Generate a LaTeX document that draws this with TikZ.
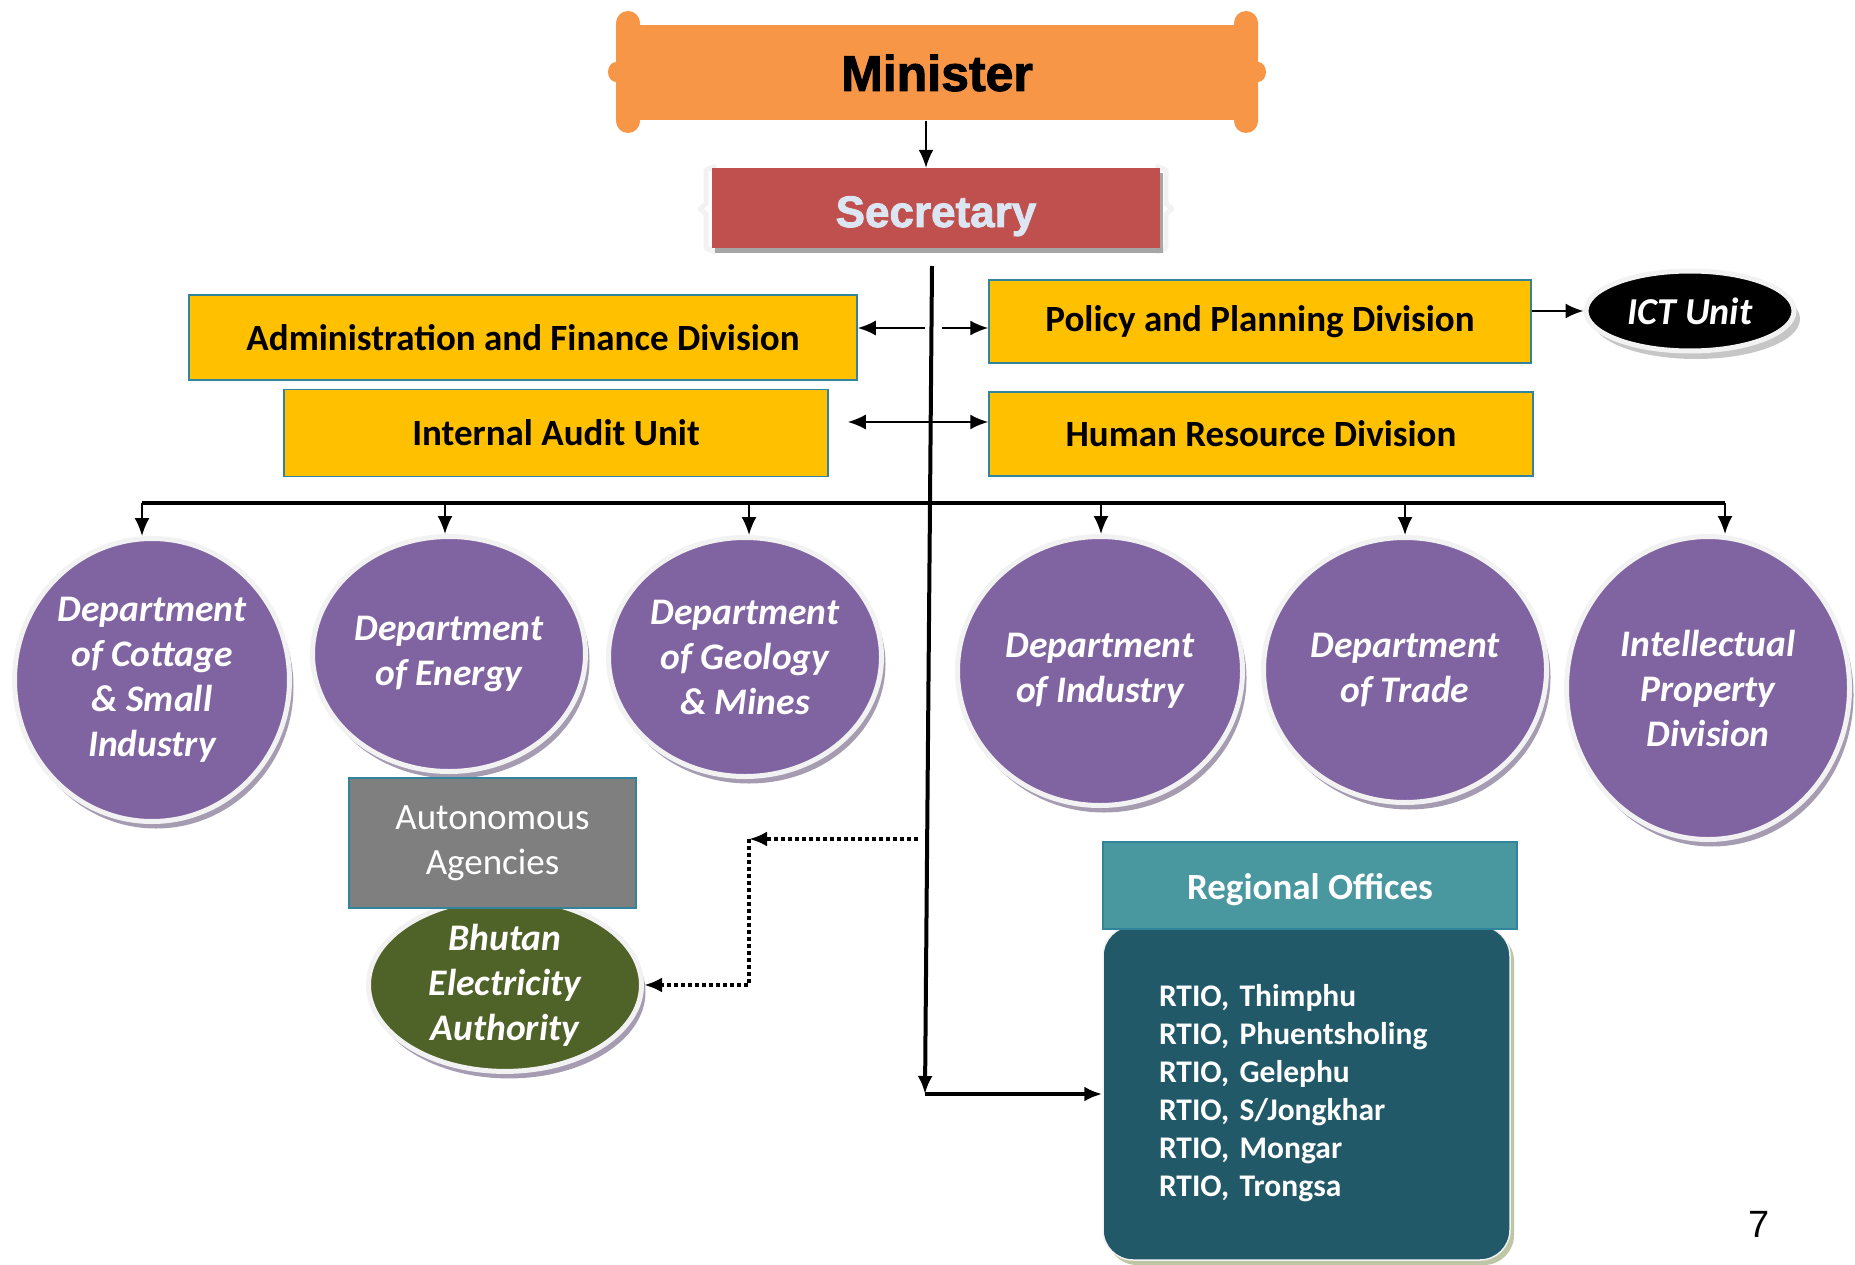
\documentclass[tikz,border=0pt]{standalone}
\usepackage{fontspec}
\setmainfont{Carlito}
\newfontfamily\headfont[BoldFeatures={FakeBold=2}]{Liberation Sans}
\usetikzlibrary{positioning, arrows.meta, shapes.geometric, shadows}

\definecolor{minorange}{HTML}{F79646}
\definecolor{secred}{HTML}{C0504D}
\definecolor{sectext}{HTML}{DCE6F2}
\definecolor{boxyellow}{HTML}{FFC000}
\definecolor{boxedge}{HTML}{31849B}
\definecolor{deptpurple}{HTML}{8064A2}
\definecolor{ringgray}{HTML}{F2F2F2}
\definecolor{shadowgray}{HTML}{A59CB2}
\definecolor{aagray}{HTML}{7F7F7F}
\definecolor{beagreen}{HTML}{4F6228}
\definecolor{headteal}{HTML}{4A989F}
\definecolor{bodyteal}{HTML}{215968}
\definecolor{bodyshadow}{HTML}{BFC6A6}

\frenchspacing
\begin{document}
\begin{tikzpicture}[x=1pt,y=-1pt,>={Latex[length=18pt,width=15pt]},
    ybox/.style={rectangle,fill=boxyellow,draw=boxedge,line width=1.5pt,inner sep=0pt,
      font=\fontsize{37}{44}\selectfont\bfseries},
    dept/.style={ellipse,fill=deptpurple,draw=ringgray,line width=5pt,text=white,align=center,
      inner sep=0pt,font=\fontsize{37.5}{45}\selectfont\bfseries\itshape,
      drop shadow={shadow xshift=4pt,shadow yshift=-7pt,fill=shadowgray,opacity=1}},
    arr/.style={->,line width=2pt},
    trunkline/.style={line width=4pt},
    dotarr/.style={->,line width=4.5pt,dash pattern=on 4pt off 3pt},
    rhead/.style={rectangle,fill=headteal,draw=boxedge,line width=1.5pt,text=white,inner sep=0pt,
      text height=28pt,text depth=0pt,font=\fontsize{37}{44}\selectfont\bfseries},
    rbody/.style={rectangle,rounded corners=30pt,fill=bodyteal,draw=ringgray,line width=1.5pt,
      text=white,align=left,text width=295pt,inner xsep=56pt,
      font=\fontsize{31.5}{38}\selectfont\bfseries,
      drop shadow={shadow xshift=4pt,shadow yshift=-5pt,fill=bodyshadow,opacity=1}}]

\useasboundingbox (0,0) rectangle (1855,1265);

% minister and secretary
\fill[minorange, rounded corners=12pt] (616,11) rectangle (640,133);
\fill[minorange, rounded corners=12pt] (1234,11) rectangle (1258,133);
\fill[minorange] (616,72) ellipse (8pt and 10pt);
\fill[minorange] (1258,72) ellipse (8pt and 10pt);
\node[rectangle,fill=minorange,minimum width=642pt,minimum height=95pt,inner sep=0pt,
  font=\headfont\fontsize{50}{56}\selectfont\bfseries] (minister) at (937,73) {Minister};

\draw[ringgray, line width=5pt, line join=round] (716,166) -- (706,170) -- (706,204) -- (700,209)
  -- (706,214) -- (706,248) -- (716,252);
\draw[ringgray, line width=5pt, line join=round] (1156,166) -- (1166,170) -- (1166,204) -- (1172,209)
  -- (1166,214) -- (1166,248) -- (1156,252);
\node[rectangle,fill=secred,minimum width=448pt,minimum height=80pt,inner sep=0pt,text=sectext,
  text height=38pt,text depth=0pt,font=\headfont\fontsize{44}{50}\selectfont\bfseries,
  drop shadow={shadow xshift=3pt,shadow yshift=-5pt,fill=gray!70,opacity=1}] (secretary) at (936,208)
  {Secretary};

\draw[arr] ([xshift=-11pt]minister.south) -- ([xshift=-11pt]minister.south |- secretary.north);

% divisions
\node[ybox,minimum width=668pt,minimum height=85pt] (admin) at (523,337.5) {Administration and Finance Division};
\node[ybox,minimum width=544pt,minimum height=87pt] (audit) at (556,433) {Internal Audit Unit};
\node[ybox,minimum width=542pt,minimum height=83pt] (policy) at (1260,321.5) {Policy and Planning Division};
\node[ybox,minimum width=544pt,minimum height=84pt] (hr) at (1261,434) {Human Resource Division};

\node[ellipse,fill=black,draw=ringgray,line width=5pt,minimum width=208pt,minimum height=80pt,inner sep=0pt,
  text=white,font=\fontsize{38}{44}\selectfont\bfseries\itshape,
  drop shadow={shadow xshift=6pt,shadow yshift=-8pt,fill=gray!45,opacity=1}] (ict) at (1690,311) {ICT Unit};

% trunk
\coordinate (ttop) at (932,266);
\coordinate (tbot) at (925,1094);
\coordinate (upl) at (925,328);
\coordinate (upr) at (942,328);
\coordinate (mid) at (930,422);
\coordinate (bar) at (0,503);

\draw[trunkline,->] (ttop) -- (tbot);
\draw[arr] (upl) -- (upl -| admin.east);
\draw[arr] (upr) -- (upr -| policy.west);
\draw[arr,<->,shorten <=19pt] (mid -| audit.east) -- (mid -| hr.west);
\draw[arr] (policy.east |- ict.west) -- (ict.west);

% departments
\node[dept,minimum width=275pt,minimum height=283pt] (cottage) at (152,680) {Department\\of Cottage\\\& Small\\Industry};
\node[dept,minimum width=273pt,minimum height=235pt] (energy) at (449,654) {Department\\of Energy};
\node[dept,minimum width=273pt,minimum height=239pt] (geology) at (745,657) {Department\\of Geology\\\& Mines};
\node[dept,minimum width=285pt,minimum height=269pt] (industry) at (1100,671) {Department\\of Industry};
\node[dept,minimum width=283pt,minimum height=265pt] (trade) at (1405,670) {Department\\of Trade};
\node[dept,minimum width=283pt,minimum height=303pt] (ipd) at (1708,688) {Intellectual\\Property\\Division};

\draw[trunkline] ([xshift=-10pt]cottage.north |- bar) -- ([xshift=17pt]ipd.north |- bar);
\foreach \d/\s in {cottage/-10,energy/-4,geology/4,industry/1,trade/0,ipd/17}
  \draw[arr] ([xshift=\s pt]\d.north |- bar) -- ([xshift=\s pt]\d.north);

% autonomous agencies
\node[ellipse,fill=beagreen,draw=ringgray,line width=5pt,minimum width=273pt,minimum height=170pt,inner sep=0pt,
  text=white,align=center,font=\fontsize{37.5}{45}\selectfont\bfseries\itshape,
  drop shadow={shadow xshift=4pt,shadow yshift=-7pt,fill=shadowgray,opacity=1}] (bea) at (505,985)
  {Bhutan\\Electricity\\Authority};
\node[rectangle,fill=aagray,draw=boxedge,line width=1.5pt,minimum width=287pt,minimum height=130pt,inner sep=0pt,
  text=white,align=center,font=\fontsize{37}{45}\selectfont] (autonomous) at (492.5,843) {Autonomous\\Agencies};

\coordinate (dotstart) at (918,839);
\coordinate (dotcorner) at (749,839);
\draw[dotarr] (dotstart) -- (dotcorner);
\draw[dotarr] (dotcorner) -- (dotcorner |- bea.east) -- (bea.east);

% regional offices
\node[rbody,minimum height=334pt] (rtio) at (1306.5,1093)
  {RTIO, Thimphu\\RTIO, Phuentsholing\\RTIO, Gelephu\\RTIO, S/Jongkhar\\RTIO, Mongar\\RTIO, Trongsa};
\node[rhead,minimum width=414pt,minimum height=87pt] (regional) at (1310,885.5) {Regional Offices};
\draw[trunkline,->] (tbot) -- (tbot -| rtio.west);

\node[font=\headfont\fontsize{38}{44}\selectfont] (pagenum) at (1759,1224) {7};
\end{tikzpicture}
\end{document}
